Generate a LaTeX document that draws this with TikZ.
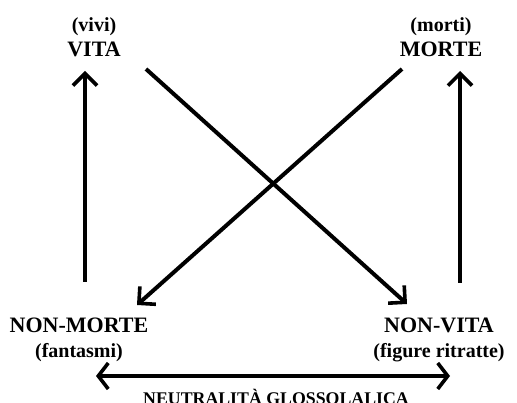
\documentclass[tikz,border=0pt]{standalone}
\usepackage{fontspec}
\setmainfont{Liberation Serif}
\usetikzlibrary{arrows.meta}

\tikzset{
  term/.style={align=center, inner sep=0pt, font=\bfseries\fontsize{22}{25}\selectfont},
  arr/.style={line width=4pt, -{Straight Barb[length=12pt, width=24pt, line width=3.6pt]}},
  darr/.style={line width=4pt, {Straight Barb[length=10pt, width=26pt, line width=3.6pt]}-{Straight Barb[length=10pt, width=26pt, line width=3.6pt]}}
}

\begin{document}
\begin{tikzpicture}[x=1pt, y=-1pt]
		%%%%% START %%%%%
		\useasboundingbox (0, 0) rectangle (517, 403);
		
		% the four terms
		\node[term] (vita) at (94, 37.5) {{\fontsize{20}{25}\selectfont(vivi)}\\VITA};
		\node[term] (morte) at (441, 37.5) {{\fontsize{20}{25}\selectfont(morti)}\\MORTE};
		\node[term] (nonmorte) at (79, 340) {NON-MORTE\\{\fontsize{20}{25}\selectfont(fantasmi)}};
		\node[term] (nonvita) at (439, 340) {NON-VITA\\{\fontsize{20}{25}\selectfont(figure ritratte)}};
		
		\node[inner sep=0pt, anchor=base, font=\bfseries\fontsize{17.8}{20}\selectfont] (neutr) at (276, 405) {NEUTRALITÀ GLOSSOLALICA};
		
		% arrow ends
		\coordinate (vitaup) at (85, 71);
		\coordinate (vitadown) at (85, 282);
		\coordinate (morteup) at (460, 71);
		\coordinate (mortedown) at (460, 283);
		\coordinate (vitadiag) at (146, 69);
		\coordinate (mortediag) at (402, 69);
		\coordinate (nonmortetip) at (137, 305);
		\coordinate (nonvitatip) at (407, 304);
		\coordinate (neutrl) at (96, 376);
		\coordinate (neutrr) at (450, 376);
		
		\draw[arr] (vitadown) -- (vitaup);
		\draw[arr] (mortedown) -- (morteup);
		\draw[arr] (vitadiag) -- (nonvitatip);
		\draw[arr] (mortediag) -- (nonmortetip);
		\draw[darr] (neutrl) -- (neutrr);
		
		%%%%% END %%%%%
	\end{tikzpicture}
\end{document}
